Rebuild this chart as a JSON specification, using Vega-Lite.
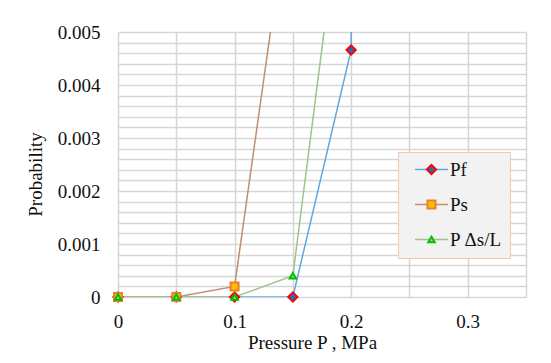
{
  "$schema": "https://vega.github.io/schema/vega-lite/v6.json",
  "width": 408,
  "height": 265,
  "autosize": {"type": "none"},
  "padding": {"left": 118, "top": 32, "right": 25, "bottom": 66},
  "background": "white",
  "config": {
    "view": {"stroke": null},
    "font": "Liberation Serif",
    "axis": {
      "labelFont": "Liberation Serif", "titleFont": "Liberation Serif",
      "labelFontSize": 19, "titleFontSize": 19, "titleFontWeight": "normal",
      "labelColor": "#111111", "titleColor": "#111111",
      "gridColor": "#d6d6d6", "gridWidth": 1.5,
      "domain": false, "ticks": false, "tickSize": 0,
      "labelOverlap": false, "labelFlush": false
    },
    "legend": {"labelFont": "Liberation Serif", "labelFontSize": 19, "labelColor": "#111111"}
  },
  "data": {"values": [
    {"series": "Pf", "p": 0, "prob": 0},
    {"series": "Pf", "p": 0.05, "prob": 0},
    {"series": "Pf", "p": 0.1, "prob": 0},
    {"series": "Pf", "p": 0.15, "prob": 0},
    {"series": "Pf", "p": 0.2, "prob": 0.00466},
    {"series": "Pf", "p": 0.25, "prob": 0.5},
    {"series": "Ps", "p": 0, "prob": 0},
    {"series": "Ps", "p": 0.05, "prob": 0},
    {"series": "Ps", "p": 0.1, "prob": 0.0002},
    {"series": "Ps", "p": 0.15, "prob": 0.008},
    {"series": "P Δs/L", "p": 0, "prob": 0},
    {"series": "P Δs/L", "p": 0.05, "prob": 0},
    {"series": "P Δs/L", "p": 0.1, "prob": 0},
    {"series": "P Δs/L", "p": 0.15, "prob": 0.0004},
    {"series": "P Δs/L", "p": 0.2, "prob": 0.009}
  ]},
  "layer": [
    {
      "mark": {"type": "line", "clip": true, "strokeWidth": 1.5},
      "encoding": {
        "x": {
          "field": "p", "type": "quantitative",
          "scale": {"domain": [0, 0.35], "nice": false, "zero": false},
          "axis": {
            "values": [0, 0.05, 0.1, 0.15, 0.2, 0.25, 0.3, 0.35],
            "tickCount": 50,
            "labelExpr": "abs(round(datum.value*10)-datum.value*10) < 0.000001 ? format(datum.value, '~g') : ''",
            "labelPadding": 30, "labelBaseline": "alphabetic",
            "titleX": 194, "titleY": 51, "titleBaseline": "alphabetic", "titleAlign": "center"
          },
          "title": "Pressure P , MPa"
        },
        "y": {
          "field": "prob", "type": "quantitative",
          "scale": {"domain": [0, 0.005], "nice": false},
          "axis": {
            "values": [0, 0.0002, 0.0004, 0.0006, 0.0008, 0.001, 0.0012, 0.0014, 0.0016, 0.0018, 0.002, 0.0022, 0.0024, 0.0026, 0.0028, 0.003, 0.0032, 0.0034, 0.0036, 0.0038, 0.004, 0.0042, 0.0044, 0.0046, 0.0048, 0.005],
            "tickCount": 100,
            "labelExpr": "abs(round(datum.value*1000)-datum.value*1000) < 0.000001 ? format(datum.value, '~g') : ''",
            "labelPadding": 18, "labelBaseline": "middle",
            "titleX": -83, "titleY": 142, "titleAngle": -90, "titleAlign": "center", "titleBaseline": "middle"
          },
          "title": "Probability"
        },
        "color": {
          "field": "series", "type": "nominal",
          "sort": ["Pf", "Ps", "P Δs/L"],
          "scale": {"range": ["#5fa8e0", "#bf8f6f", "#9fc388"]},
          "legend": {
            "orient": "none", "legendX": 280, "legendY": 120, "title": null,
            "symbolType": "M-16.5,0H16.5", "symbolSize": 4, "symbolStrokeWidth": 1.5,
            "padding": 8, "symbolOffset": 16, "labelOffset": 9, "rowPadding": 15,
            "fillColor": "#f2f2f2", "strokeColor": "#f4c9ab",
            "labelExpr": "datum.label + '   '", "zindex": 0
          }
        }
      }
    },
    {
      "transform": [{"filter": "datum.prob <= 0.005"}],
      "mark": {"type": "point", "filled": true, "opacity": 1, "strokeWidth": 2},
      "encoding": {
        "x": {"field": "p", "type": "quantitative"},
        "y": {"field": "prob", "type": "quantitative"},
        "shape": {
          "field": "series", "type": "nominal",
          "scale": {"domain": ["Pf", "Ps", "P Δs/L"], "range": ["diamond", "square", "triangle-up"]},
          "legend": {
            "orient": "none", "legendX": 280, "legendY": 120, "title": null,
            "padding": 8, "symbolOffset": 16, "labelOffset": 9, "rowPadding": 15,
            "labelColor": "transparent", "symbolStrokeWidth": 2, "zindex": 1
          }
        },
        "fill": {
          "field": "series", "type": "nominal",
          "scale": {"domain": ["Pf", "Ps", "P Δs/L"], "range": ["#1f6fc0", "#ffc000", "#a9d18e"]}
        },
        "stroke": {
          "field": "series", "type": "nominal",
          "scale": {"domain": ["Pf", "Ps", "P Δs/L"], "range": ["#ff0000", "#ed7d31", "#00c000"]}
        },
        "size": {
          "field": "series", "type": "nominal",
          "scale": {"domain": ["Pf", "Ps", "P Δs/L"], "range": [86, 42, 72]}
        }
      }
    }
  ]
}
